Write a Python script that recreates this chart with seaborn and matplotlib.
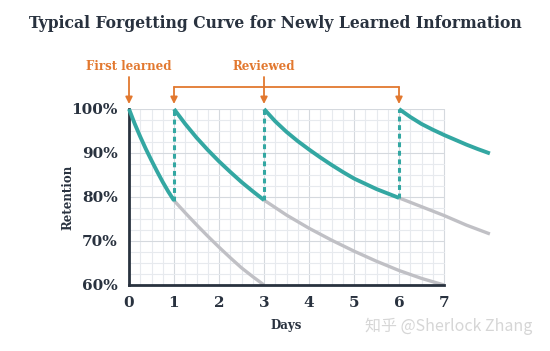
import numpy as np
import pandas as pd
import matplotlib
matplotlib.use('Agg')
import matplotlib.pyplot as plt
import seaborn as sns

# retention curves (days, % retained)
learn_days = [0, 0.125, 0.25, 0.375, 0.5, 0.625, 0.75, 0.875, 1]
learn_ret = [100, 96.7, 93.7, 90.9, 88.3, 85.8, 83.4, 81.2, 79.2]

review1_days = [1, 1.25, 1.5, 1.75, 2, 2.25, 2.5, 2.75, 3]
review1_ret = [100, 96.6, 93.5, 90.7, 88.1, 85.7, 83.4, 81.3, 79.3]

review2_days = [3, 3.25, 3.5, 3.75, 4, 4.25, 4.5, 4.75, 5, 5.25, 5.5, 5.75, 6]
review2_ret = [100, 97.2, 94.8, 92.7, 90.8, 89.0, 87.3, 85.7, 84.2, 83.0, 81.8, 80.8, 79.8]

review3_days = [6, 6.25, 6.5, 6.75, 7, 7.25, 7.5, 7.75, 8.02]
review3_ret = [100, 98.2, 96.6, 95.3, 94.1, 93.0, 91.9, 90.9, 89.9]

# what happens without the review (grey)
forget1_days = [1, 1.25, 1.5, 1.75, 2, 2.25, 2.5, 2.75, 3]
forget1_ret = [79.2, 76.4, 73.7, 71.1, 68.6, 66.2, 63.9, 61.9, 60.0]

forget2_days = [3, 3.5, 4, 4.5, 5, 5.5, 6, 6.5, 7]
forget2_ret = [79.3, 75.9, 72.9, 70.2, 67.7, 65.4, 63.3, 61.5, 60.0]

forget3_days = [6, 6.5, 7, 7.5, 8.02]
forget3_ret = [79.8, 77.8, 75.8, 73.6, 71.6]

review_days = [1, 3, 6]
review_from = [79.2, 79.3, 79.8]

x_ticks = [0, 1, 2, 3, 4, 5, 6, 7]
y_ticks = [60, 70, 80, 90, 100]
y_labels = ['60%', '70%', '80%', '90%', '100%']

TEAL = '#33a7a2'
GREY = '#c0c0c5'
NAVY = '#29323f'
ORANGE = '#e2782f'
FONT = 'DejaVu Serif'

sns.set_style('white')
plt.rcParams['font.family'] = [FONT, 'DejaVu Sans']

fig = plt.figure(figsize=(5.5, 3.51), dpi=100)
W, H = 550, 351
x0, px_day = 129, 45
y100, px_pct = 109, 4.4
xmax = 8.05
ax = fig.add_axes([x0 / W, (H - (y100 + 40 * px_pct)) / H, xmax * px_day / W, 40 * px_pct / H])

ax.set_xlim(0, xmax)
ax.set_ylim(60, 100)

# grid only over the 0-7 day box
for v in np.arange(0, 7.01, 0.25):
    c = '#d5d9de' if v % 1 == 0 else '#e7eaee'
    ax.plot([v, v], [60, 100], color=c, lw=0.8, zorder=0)
for v in np.arange(60, 100.01, 2.5):
    c = '#d5d9de' if v % 10 == 0 else '#e7eaee'
    ax.plot([0, 7], [v, v], color=c, lw=0.8, zorder=0)

grey_sets = [(forget1_days, forget1_ret), (forget2_days, forget2_ret), (forget3_days, forget3_ret)]
for d, r in grey_sets:
    sns.lineplot(x=d, y=r, ax=ax, color=GREY, lw=2.4, sort=False, estimator=None,
                 solid_capstyle='butt', solid_joinstyle='round', zorder=2)

teal_sets = [(learn_days, learn_ret), (review1_days, review1_ret),
             (review2_days, review2_ret), (review3_days, review3_ret)]
for d, r in teal_sets:
    sns.lineplot(x=d, y=r, ax=ax, color=TEAL, lw=2.8, sort=False, estimator=None,
                 solid_capstyle='butt', solid_joinstyle='round', zorder=3, clip_on=False)

for d, r in zip(review_days, review_from):
    ax.plot([d, d], [r, 100], color=TEAL, lw=2.2, ls=(0, (1.6, 1.2)), zorder=3)

# axes styling
for s in ['top', 'right']:
    ax.spines[s].set_visible(False)
for s in ['left', 'bottom']:
    ax.spines[s].set_color(NAVY)
    ax.spines[s].set_linewidth(2)
ax.spines['bottom'].set_bounds(0, 7)
ax.set_xticks(x_ticks)
ax.set_yticks(y_ticks)
ax.set_yticklabels(y_labels)
ax.tick_params(axis='both', colors=NAVY, length=6, width=1.6, direction='out', pad=2,
               labelsize=11)
for lab in ax.get_xticklabels() + ax.get_yticklabels():
    lab.set_fontweight('bold')
    lab.set_color(NAVY)
ax.set_xlabel('')
ax.set_ylabel('')

ax.text(3.5, 60 - (326 - 285) / px_pct, 'Days', ha='center', va='center',
        fontsize=8.5, fontweight='bold', color=NAVY)
fig.text(68 / W, 1 - 197 / H, 'Retention', rotation=90, ha='center', va='center',
         fontsize=8.5, fontweight='bold', color=NAVY)

fig.text(275 / W, 1 - 24 / H, 'Typical Forgetting Curve for Newly Learned Information',
         ha='center', va='center', fontsize=12.5, fontweight='bold', color=NAVY,
         fontstretch='condensed')

# annotations above the plot
def to_y(py):
    return 100 + (y100 - py) / px_pct

arrow = dict(arrowstyle='-|>', color=ORANGE, lw=1.3, mutation_scale=10, shrinkA=0, shrinkB=0)
ax.text(0, to_y(66), 'First learned', ha='center', va='center', fontsize=8.5,
        fontweight='bold', color=ORANGE)
ax.text(3, to_y(67), 'Reviewed', ha='center', va='center', fontsize=8.5,
        fontweight='bold', color=ORANGE)
ax.annotate('', xy=(0, to_y(104)), xytext=(0, to_y(77)), arrowprops=arrow,
            annotation_clip=False)
ax.plot([1, 6], [to_y(87), to_y(87)], color=ORANGE, lw=1.3, clip_on=False)
for d in review_days:
    top = to_y(77) if d == 3 else to_y(87)
    ax.annotate('', xy=(d, to_y(104)), xytext=(d, top), arrowprops=arrow,
                annotation_clip=False)

fig.text(449 / W, 1 - 326 / H, '知乎 @Sherlock Zhang', ha='center', va='center',
         fontsize=11.5, color='#d6d6d6', family=['Noto Sans CJK SC', 'DejaVu Sans'])

plt.savefig('out.png', dpi=100)
plt.close()
